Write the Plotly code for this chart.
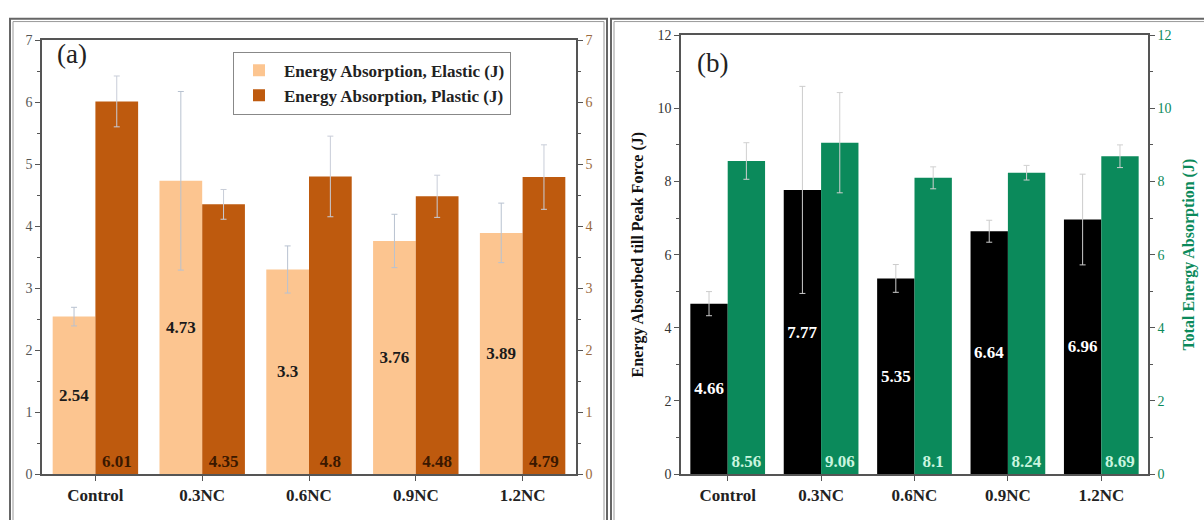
import plotly.graph_objects as go

categories = ["Control", "0.3NC", "0.6NC", "0.9NC", "1.2NC"]
elastic = [2.54, 4.73, 3.3, 3.76, 3.89]
elastic_err = [0.15, 1.44, 0.38, 0.43, 0.48]
plastic = [6.01, 4.35, 4.8, 4.48, 4.79]
plastic_err = [0.41, 0.24, 0.65, 0.34, 0.52]
peak = [4.66, 7.77, 5.35, 6.64, 6.96]
peak_err = [0.33, 2.83, 0.38, 0.30, 1.24]
total = [8.56, 9.06, 8.1, 8.24, 8.69]
total_err = [0.50, 1.37, 0.30, 0.20, 0.31]

W, H = 1204, 520
def px(x): return x / W
def py(y): return 1 - y / H

FONT = "Liberation Serif"
C_EL = "#FCC590"
C_PL = "#BE5A0E"
C_BK = "#000000"
C_GR = "#0B8A5B"
AX = "#555555"

fig = go.Figure()

def bar(x, y, err, color, name, xa, ya, offset, textcolor, anchor, showlegend, errcolor):
    fig.add_trace(go.Bar(
        x=x, y=y, name=name, marker=dict(color=color, line=dict(width=0)),
        width=0.4, offset=offset, xaxis=xa, yaxis=ya,
        error_y=dict(type="data", array=err, visible=True, color=errcolor, thickness=1, width=3),
        texttemplate="<b>%{y}</b>", textposition="inside", insidetextanchor=anchor,
        textangle=0, textfont=dict(family=FONT, size=17, color=textcolor),
        constraintext="none", cliponaxis=False, showlegend=showlegend,
    ))

bar(categories, elastic, elastic_err, C_EL, "<b>Energy Absorption, Elastic (J)</b>", "x", "y", -0.4, "#1a1a1a", "middle", True, "#b8c2d0")
bar(categories, plastic, plastic_err, C_PL, "<b>Energy Absorption, Plastic (J)</b>", "x", "y2", 0.0, "#3a1800", "start", True, "#c8cdd8")
bar(categories, peak, peak_err, C_BK, "peak", "x2", "y3", -0.4, "#ffffff", "middle", False, "#cccccc")
bar(categories, total, total_err, C_GR, "total", "x2", "y4", 0.0, "#c9f5df", "start", False, "#d0d0d0")

xa_common = dict(type="category", range=[-0.5, 4.5], showline=True, linecolor=AX, linewidth=1.5,
                 mirror=True, ticks="outside", ticklen=5, tickcolor=AX,
                 tickvals=categories, ticktext=["<b>%s</b>" % c for c in categories],
                 tickfont=dict(family=FONT, size=17, color="#222"),
                 showgrid=False, zeroline=False)
ya_base = dict(showline=True, linecolor=AX, linewidth=1.5, ticks="outside", ticklen=5, tickcolor=AX,
               showgrid=False, zeroline=False)

fig.update_layout(
    width=W, height=H, margin=dict(l=0, r=0, t=0, b=0),
    paper_bgcolor="white", plot_bgcolor="white",
    barmode="overlay",
    font=dict(family=FONT),
    xaxis=dict(domain=[px(42), px(576)], anchor="y", **xa_common),
    yaxis=dict(domain=[py(481), py(34)], anchor="x", range=[0, 7], dtick=1,
               minor=dict(dtick=0.5, ticks="outside", ticklen=3, tickcolor=AX), **ya_base,
               tickfont=dict(family=FONT, size=14, color="#555")),
    yaxis2=dict(overlaying="y", side="right", anchor="x", range=[0, 7], dtick=1,
                minor=dict(dtick=0.5, ticks="outside", ticklen=3, tickcolor=AX), **ya_base,
                tickfont=dict(family=FONT, size=14, color="#9a6a40")),
    xaxis2=dict(domain=[px(681), px(1148)], anchor="y3", **xa_common),
    yaxis3=dict(domain=[py(481), py(29)], anchor="x2", range=[0, 12], dtick=2,
                minor=dict(dtick=1, ticks="outside", ticklen=3, tickcolor=AX),
                title=dict(text="<b>Energy Absorbed till Peak Force (J)</b>", standoff=10,
                           font=dict(family=FONT, size=16, color="#111")),
                **ya_base, tickfont=dict(family=FONT, size=14, color="#333")),
    yaxis4=dict(overlaying="y3", side="right", anchor="x2", range=[0, 12], dtick=2,
                minor=dict(dtick=1, ticks="outside", ticklen=3, tickcolor=AX),
                title=dict(text="<b>Total Energy Absorption (J)</b>", standoff=12,
                           font=dict(family=FONT, size=16, color=C_GR)),
                **ya_base, tickfont=dict(family=FONT, size=14, color=C_GR)),
    legend=dict(x=px(233), y=py(46), xanchor="left", yanchor="top",
                bgcolor="rgba(255,255,255,0.9)", bordercolor="#888", borderwidth=1,
                font=dict(family=FONT, size=17, color="#222"), tracegroupgap=0,
                itemwidth=40),
    annotations=[
        dict(text="(a)", x=px(55), y=py(48), xref="paper", yref="paper", showarrow=False,
             xanchor="left", yanchor="middle", font=dict(family=FONT, size=27, color="#222")),
        dict(text="(b)", x=px(695), y=py(58), xref="paper", yref="paper", showarrow=False,
             xanchor="left", yanchor="middle", font=dict(family=FONT, size=27, color="#222")),
    ],
    shapes=[
        dict(type="rect", xref="paper", yref="paper", x0=px(10), x1=px(607), y0=-0.1, y1=py(12),
             line=dict(color="#666", width=2)),
        dict(type="rect", xref="paper", yref="paper", x0=px(13), x1=px(604), y0=-0.1, y1=py(15),
             line=dict(color="#999", width=1)),
        dict(type="rect", xref="paper", yref="paper", x0=px(611), x1=1.05, y0=-0.1, y1=py(12),
             line=dict(color="#666", width=2)),
        dict(type="rect", xref="paper", yref="paper", x0=px(614), x1=1.05, y0=-0.1, y1=py(15),
             line=dict(color="#999", width=1)),
    ],
)

fig.write_html("out.html")
